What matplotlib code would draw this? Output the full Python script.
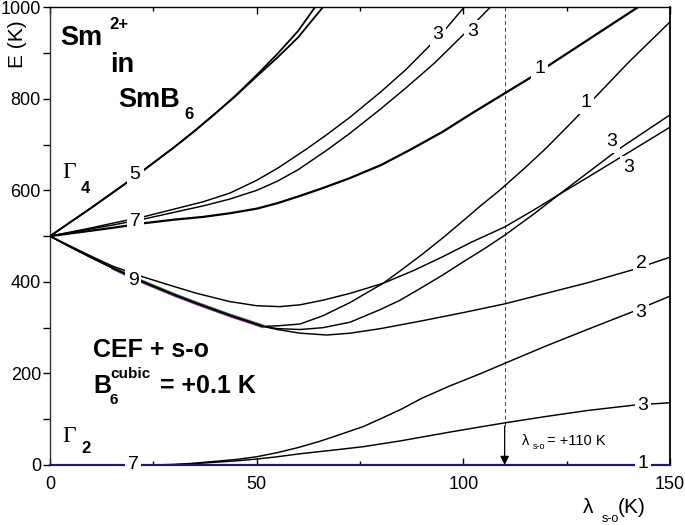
import matplotlib
matplotlib.use("Agg")
import matplotlib.pyplot as plt
from matplotlib.transforms import offset_copy

plt.rcParams['font.family'] = ['Liberation Sans', 'DejaVu Sans']

# --- data (lambda_s-o in K, E in K) ---
# Gamma4-derived multiplet "5" (two branches)
x_5a = [0, 5, 10, 15, 20, 25, 30, 35, 40, 45, 50, 55, 60, 64.1]
e_5a = [500, 531, 562, 594, 626, 660, 694, 730, 768, 808, 852, 898, 948, 1000]
x_5b = [0, 5, 10, 15, 20, 25, 30, 35, 40, 45, 50, 55, 60, 66]
e_5b = [500, 531, 562, 594, 626, 660, 694, 730, 768, 807, 849, 890, 934, 1000]

# multiplet "7" (upper) -> 3, 3, 1
x_7a = [0, 5, 10, 15, 22.5, 30, 37, 43.5, 50, 55, 62, 67, 72.6, 80, 86, 91.5, 95, 100]
e_7a = [500, 509, 518, 528, 542, 559, 575, 594, 622, 648, 690, 722, 760, 815, 863, 913, 945, 998]
x_7b = [0, 5, 10, 15, 22.5, 30, 37, 43.5, 50, 55, 60, 67, 72.6, 80, 86, 93, 100, 106.5]
e_7b = [500, 508, 516, 524, 537, 552, 566, 581, 600, 620, 645, 688, 725, 778, 823, 878, 940, 1000]
x_7c = [0, 5, 10, 15, 22.5, 30, 37, 43.5, 50, 55, 60.5, 66, 72.6, 80, 87, 95, 102,
        110, 116, 120.5, 130, 142.2]
e_7c = [500, 506, 512, 518, 528, 536, 542, 550, 560, 572, 588, 605, 627, 655, 688, 728, 768,
        812, 845, 872, 928, 1000]

# multiplet "9" -> 3 (upper branch), bundle splitting into 1, 3, 2
x_9b = [0, 5, 10, 15, 22.5, 30, 35.5, 43.5, 50, 55.6, 60.5, 66, 72.6, 80.6, 88, 95, 102,
        110, 117, 123, 130, 140, 150]
e_9b = [500, 478, 456, 435, 411, 390, 375, 357, 348, 346, 350, 360, 375, 397, 425, 455, 487,
        520, 557, 590, 628, 683, 738]
x_bundle = [0, 5, 10, 15, 22.5, 30, 35.5, 43.5, 51.5]
e_bundle = [500, 476, 453, 431, 400, 372, 353, 327, 303]
x_9a = [55, 60.5, 66, 72.6, 80.6, 84.7, 90, 95, 100, 104, 108.9, 115, 120, 127, 131, 140, 150]
e_9a = [304, 308, 326, 355, 397, 424, 460, 496, 534, 565, 601, 650, 692, 756, 795, 880, 968]
x_9c = [55, 60.5, 66, 72.6, 80, 84.7, 90, 95, 100, 105, 110, 117, 123, 130, 137.9, 150]
e_9c = [298, 296, 300, 312, 340, 360, 388, 415, 444, 472, 502, 548, 590, 638, 692, 765]
x_9d = [55, 60.5, 67, 72.6, 80, 90, 100, 110, 120, 130, 140.8, 150]
e_9d = [296, 288, 284, 288, 298, 315, 333, 352, 375, 398, 426, 454]

# Gamma2-derived multiplet "7" (lower) -> 3, 3, 1
x_L1 = [0, 24.2, 30, 35, 40, 45, 50, 55, 60, 65, 70, 75.8, 80, 85, 90, 96.8, 104, 110,
        120, 130, 141, 150]
e_L1 = [0, 0, 1, 4, 8, 12, 18, 27, 38, 51, 66, 84, 101, 122, 146, 173, 199, 222,
        260, 296, 335, 369]
x_L2 = [0, 24.2, 30, 35, 40, 45, 50, 55, 60, 65, 70, 75.8, 85, 96.8, 104, 110, 120, 130,
        141.5, 150]
e_L2 = [0, 0, 1, 3, 6, 9, 13, 18, 24, 29, 34, 40, 53, 72, 83, 92, 106, 119, 131, 136]
x_ground = [0, 150]
e_ground = [0, 0]

# degeneracy labels (text, x, E)
deg_labels = [("5", 20.6, 634), ("7", 20.6, 531), ("9", 20.1, 404), ("7", 20.1, 2),
              ("3", 93.9, 940), ("3", 102.3, 948), ("1", 118.5, 867), ("1", 129.7, 791),
              ("3", 136.0, 706), ("3", 140.0, 650), ("2", 143.0, 441), ("3", 143.0, 334),
              ("3", 143.5, 131), ("1", 143.5, 3)]

lam_marker = 110

fig = plt.figure(figsize=(6.85, 5.25), dpi=100)
ax = fig.add_axes([0.073, 0.1143, 0.9051, 0.8718])

lw = 1.05
for xs, es, w in [(x_5a, e_5a, 1.3), (x_5b, e_5b, 1.3),
                  (x_7a, e_7a, lw), (x_7b, e_7b, lw), (x_7c, e_7c, 1.6),
                  (x_9b, e_9b, lw), (x_L1, e_L1, lw), (x_L2, e_L2, lw)]:
    ax.plot(xs, es, color='black', lw=w, zorder=3)

# bundle of 9-multiplet, splits into three curves
for xs, es in [(x_9a, e_9a), (x_9c, e_9c), (x_9d, e_9d)]:
    ax.plot(x_bundle + xs, e_bundle + es, color='black', lw=lw, zorder=3)

# coloured fringes seen along the bundle
up = offset_copy(ax.transData, fig=fig, x=0, y=1.3, units='dots')
dn = offset_copy(ax.transData, fig=fig, x=0, y=-1.3, units='dots')
ax.plot(x_bundle[3:], e_bundle[3:], color='#2e7d32', lw=0.9, transform=up, zorder=2)
ax.plot(x_bundle[3:], e_bundle[3:], color='#8e24aa', lw=0.9, transform=dn, zorder=2)

# ground level drawn as bottom line
ax.plot(x_ground, e_ground, color='#1f1f5e', lw=1.6, zorder=3, clip_on=False)

# marker for lambda_s-o = +110 K
ax.plot([lam_marker, lam_marker], [85, 1000], color='#444444', lw=0.7,
        linestyle=(0, (4, 3)), zorder=1)
ax.annotate("", xy=(lam_marker, 0), xytext=(lam_marker, 85),
            arrowprops=dict(arrowstyle='-|>', color='black', lw=0.9,
                            mutation_scale=13, shrinkA=0, shrinkB=0), zorder=4)

for t, x, e in deg_labels:
    ax.text(x, e, t, fontsize=14, ha='center', va='center', zorder=5,
            bbox=dict(boxstyle='square,pad=0.15', fc='white', ec='none'))

# annotations
bold = dict(fontweight='bold', ha='left', va='baseline')
ax.text(2.4, 918, "Sm", fontsize=19.5, **bold)
ax.text(14.3, 952, "2+", fontsize=12, **bold)
ax.text(14.5, 859, "in", fontsize=19.5, **bold)
ax.text(16.5, 782, "SmB", fontsize=19.5, **bold)
ax.text(32.4, 756, "6", fontsize=12, **bold)

ax.text(3.1, 627, "Γ", fontsize=17, family='Liberation Serif', ha='left', va='baseline')
ax.text(7.5, 594, "4", fontsize=12, **bold)
ax.text(3.1, 50, "Γ", fontsize=17, family='Liberation Serif', ha='left', va='baseline')
ax.text(7.7, 26, "2", fontsize=12, **bold)

ax.text(10.4, 236, "CEF + s-o", fontsize=18, **bold)
ax.text(10.4, 157, "B", fontsize=18, **bold)
ax.text(14.5, 190, "cubic", fontsize=11, **bold)
ax.text(14.5, 133, "6", fontsize=11, **bold)
ax.text(26.6, 157, "= +0.1 K", fontsize=18, **bold)

ax.text(114.2, 43, "λ", fontsize=10.5, ha='left', va='baseline')
ax.text(116.9, 36, "s-o", fontsize=6.5, ha='left', va='baseline')
ax.text(120.3, 43, "= +110 K", fontsize=10.5, ha='left', va='baseline')

# axes
ax.set_xlim(0, 150)
ax.set_ylim(0, 1000)
ax.set_xticks([0, 50, 100, 150])
ax.set_xticks([25, 75, 125], minor=True)
ax.set_yticks([0, 200, 400, 600, 800, 1000])
ax.set_yticks([100, 300, 500, 700, 900], minor=True)
ax.tick_params(axis='x', which='both', direction='in', top=True, bottom=True,
               labelsize=13, pad=8, width=1)
ax.tick_params(axis='x', which='major', length=5)
ax.tick_params(axis='x', which='minor', length=3)
ax.tick_params(axis='y', which='both', direction='out', left=True, right=False,
               labelsize=13, pad=1.5, width=1, length=5)
ax.spines['bottom'].set_visible(False)
ax.spines['left'].set_color('#333333')
ax.spines['right'].set_linewidth(1.3)
for s in ['left', 'top']:
    ax.spines[s].set_linewidth(1.0)

fig.text(0.012, 0.915, "E (K)", fontsize=15, rotation=90, ha='left', va='center')
fig.text(0.851, 0.022, "λ", fontsize=15, ha='left', va='baseline')
fig.text(0.878, 0.006, "s-o", fontsize=9, ha='left', va='baseline')
fig.text(0.902, 0.022, "(K)", fontsize=15, ha='left', va='baseline')

fig.savefig("out.png", dpi=100)
